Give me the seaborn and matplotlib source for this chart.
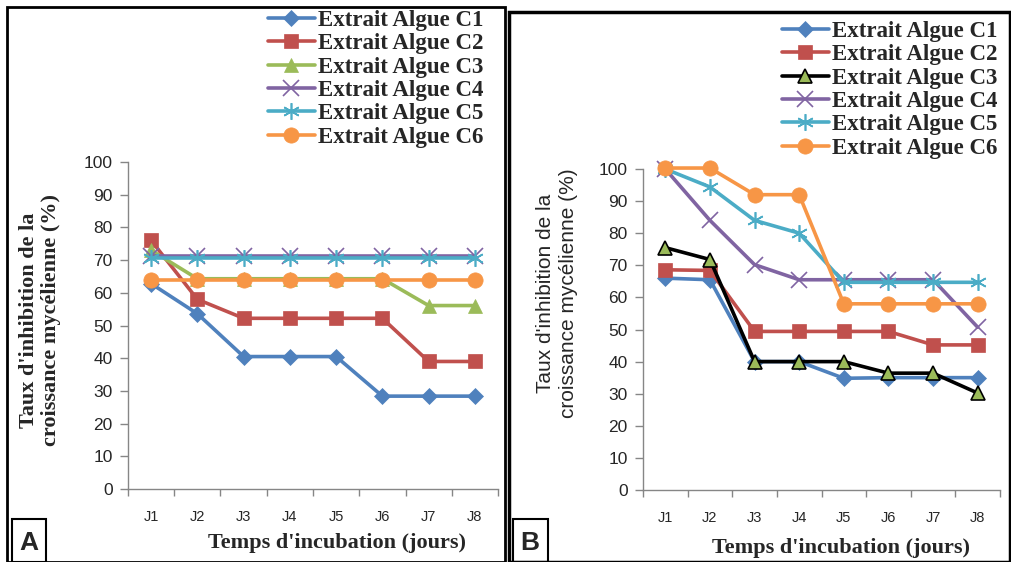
import numpy as np
import pandas as pd
import matplotlib
matplotlib.use("Agg")
import matplotlib.pyplot as plt
import seaborn as sns
from matplotlib.patches import Rectangle

# ====================================================
# DATA
# ====================================================

days = ["J1", "J2", "J3", "J4", "J5", "J6", "J7", "J8"]
series = ["Extrait Algue C1", "Extrait Algue C2", "Extrait Algue C3",
          "Extrait Algue C4", "Extrait Algue C5", "Extrait Algue C6"]

a_c1 = [62.8, 53.6, 40.5, 40.5, 40.5, 28.4, 28.4, 28.4]
a_c2 = [76.0, 58.0, 52.2, 52.2, 52.2, 52.2, 39.0, 39.0]
a_c3 = [73.0, 64.3, 64.3, 64.3, 64.3, 64.3, 56.1, 56.1]
a_c4 = [71.2, 71.2, 71.2, 71.2, 71.2, 71.2, 71.2, 71.2]
a_c5 = [70.6, 70.6, 70.6, 70.6, 70.6, 70.6, 70.6, 70.6]
a_c6 = [64.0, 64.0, 64.0, 64.0, 64.0, 64.0, 64.0, 64.0]

b_c1 = [66.0, 65.5, 40.0, 40.0, 34.8, 35.0, 35.0, 35.0]
b_c2 = [68.6, 68.4, 49.4, 49.4, 49.4, 49.4, 45.2, 45.2]
b_c3 = [75.5, 71.8, 40.0, 40.0, 40.0, 36.4, 36.4, 30.2]
b_c4 = [100.0, 84.0, 70.2, 65.5, 65.5, 65.5, 65.5, 50.7]
b_c5 = [100.0, 94.4, 84.0, 80.0, 64.7, 64.7, 64.7, 64.7]
b_c6 = [100.3, 100.3, 92.0, 92.0, 58.0, 58.0, 58.0, 58.0]

ylabel_txt = "Taux d'inhibition de la\ncroissance mycélienne (%)"
xlabel_txt = "Temps d'incubation (jours)"

# ====================================================
# STYLE
# ====================================================

sns.set_style("white")
plt.rcParams["font.family"] = ["Liberation Sans", "DejaVu Sans"]

blue = "#4F81BD"
red = "#C0504D"
green = "#9BBB59"
purple = "#8064A2"
cyan = "#4BACC6"
orange = "#F79646"
grey = "#868686"

markers = ["D", "s", "^", "x", (6, 2, 0), "o"]
msizes = [8, 10, 10, 11, 12, 11]

W, H = 1012, 562


def draw_panel(ax, values, colors, c3_edge):
    df = pd.DataFrame({"Jour": days * len(series),
                       "Serie": np.repeat(series, len(days)),
                       "Taux": np.concatenate(values)})
    for i, name in enumerate(series):
        sub = df[df["Serie"] == name]
        face = green if i == 2 else colors[i]
        edge = c3_edge if i == 2 else colors[i]
        mew = 1.2 if i in (3, 4) or (i == 2 and c3_edge == "black") else 0.5
        sns.lineplot(data=sub, x="Jour", y="Taux", ax=ax, color=colors[i],
                     linewidth=2.6, marker=markers[i], markersize=msizes[i],
                     markerfacecolor=face, markeredgecolor=edge,
                     markeredgewidth=mew, label=name, clip_on=False,
                     legend=False)
    ax.set_xlim(-0.5, 7.5)
    ax.set_ylim(0, 100)
    ax.set_yticks(range(0, 101, 10))
    ax.set_xticks(range(8))
    ax.set_xticklabels(days)
    ax.set_xticks(np.arange(-0.5, 8, 1), minor=True)
    ax.tick_params(axis="x", which="major", length=0, pad=15, labelsize=10.5)
    ax.tick_params(axis="x", which="minor", length=5, width=1, color=grey,
                   direction="out", bottom=True)
    ax.tick_params(axis="y", which="major", length=6, width=1, color=grey,
                   direction="out", left=True, labelsize=12.5, pad=5)
    for s in ["top", "right"]:
        ax.spines[s].set_visible(False)
    for s in ["left", "bottom"]:
        ax.spines[s].set_color(grey)
        ax.spines[s].set_linewidth(1)
    ax.set_xlabel("")
    ax.set_ylabel("")


fig = plt.figure(figsize=(10.12, 5.62), dpi=100)

axA = fig.add_axes([128 / W, 1 - 489 / H, 370 / W, 327 / H])
axB = fig.add_axes([643 / W, 1 - 490 / H, 357 / W, 321 / H])

colorsA = [blue, red, green, purple, cyan, orange]
colorsB = [blue, red, "black", purple, cyan, orange]

draw_panel(axA, [a_c1, a_c2, a_c3, a_c4, a_c5, a_c6], colorsA, green)
draw_panel(axB, [b_c1, b_c2, b_c3, b_c4, b_c5, b_c6], colorsB, "black")

# axis titles
fig.text(40 / W, 1 - 320 / H, ylabel_txt, rotation=90, ha="center",
         va="center", family="Liberation Serif", fontweight="bold",
         fontsize=16, linespacing=1.15)
fig.text(557 / W, 1 - 293 / H, ylabel_txt, rotation=90, ha="center",
         va="center", fontsize=15, linespacing=1.3)
fig.text(337 / W, 1 - 543 / H, xlabel_txt, ha="center", va="center",
         family="Liberation Serif", fontweight="bold", fontsize=16)
fig.text(841 / W, 1 - 548 / H, xlabel_txt, ha="center", va="center",
         family="Liberation Serif", fontweight="bold", fontsize=16)

leg_kw = dict(loc="upper left", frameon=False,
              prop={"family": "Liberation Serif", "weight": "bold", "size": 16.5},
              handlelength=2.05, handletextpad=0.12, labelspacing=0.1,
              borderaxespad=0, borderpad=0)
fig.legend(*axA.get_legend_handles_labels(),
           bbox_to_anchor=(268 / W, 1 - 10 / H), **leg_kw)
fig.legend(*axB.get_legend_handles_labels(),
           bbox_to_anchor=(782 / W, 1 - 21 / H), **leg_kw)

# panel borders
fig.add_artist(Rectangle((7 / W, 0), (505 - 7) / W, (H - 7) / H,
                         transform=fig.transFigure, fill=False,
                         edgecolor="black", linewidth=2))
fig.add_artist(Rectangle((509 / W, 0), (1010 - 509) / W, (H - 12) / H,
                         transform=fig.transFigure, fill=False,
                         edgecolor="black", linewidth=2.5))
fig.add_artist(Rectangle((12 / W, 0), 34 / W, 43 / H,
                         transform=fig.transFigure, fill=False,
                         edgecolor="black", linewidth=1.5))
fig.add_artist(Rectangle((513 / W, 0), 35 / W, 43 / H,
                         transform=fig.transFigure, fill=False,
                         edgecolor="black", linewidth=1.5))
fig.text(29 / W, 19 / H, "A", ha="center", va="center", fontsize=19,
         fontweight="bold")
fig.text(530 / W, 19 / H, "B", ha="center", va="center", fontsize=19,
         fontweight="bold")

fig.savefig("out.png", dpi=100)
